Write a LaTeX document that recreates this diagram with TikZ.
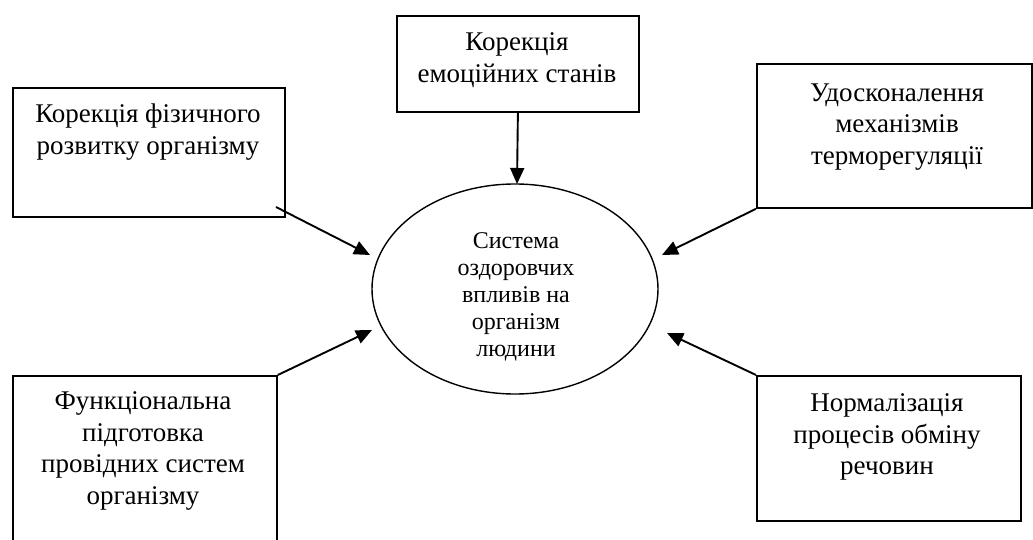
\documentclass[tikz,border=0pt]{standalone}
\usepackage{fontspec}
\setmainfont{Liberation Serif}
\usetikzlibrary{arrows.meta}
\begin{document}
\begin{tikzpicture}[x=1pt,y=-1pt,
  box/.style={draw,line width=1.8pt,rectangle,inner sep=0pt,anchor=north west},
  boxtext/.style={align=center,font=\fontsize{27}{31.5}\selectfont,inner sep=0pt},
  hubtext/.style={align=center,font=\fontsize{24}{27}\selectfont,inner sep=0pt},
  feed/.style={line width=1.9pt,-{Triangle[length=16pt,width=14pt]}}]
\useasboundingbox (0,0) rectangle (1033,540);
\fill[white] (0,0) rectangle (1033,540);

% central ellipse
\draw[line width=1.4pt] (515,289) ellipse [x radius=143, y radius=105];
\node[hubtext] (hub) at (516,297) {Система\\оздоровчих\\впливів на\\організм\\людини};

% surrounding boxes
\node[box,minimum width=272pt,minimum height=129pt] (b1) at (12,87) {};
\node[boxtext] (t1) at (148,132) {Корекція фізичного\\розвитку організму};

\node[box,minimum width=242pt,minimum height=96pt] (b5) at (396,15) {};
\node[boxtext] (t5) at (517,60) {Корекція\\емоційних станів};

\node[box,minimum width=275pt,minimum height=144pt] (b2) at (756,63) {};
\node[boxtext] (t2) at (897,127) {Удосконалення\\механізмів\\терморегуляції};

\node[box,minimum width=264pt,minimum height=180pt] (b3) at (12,375) {};
\node[boxtext] (t3) at (143,451) {Функціональна\\підготовка\\провідних систем\\організму};

\node[box,minimum width=264pt,minimum height=145pt] (b4) at (756,375) {};
\node[boxtext] (t4) at (887,437) {Нормалізація\\процесів обміну\\речовин};

% arrow ends
\coordinate (s1) at (276,207);
\coordinate (e1) at (370,255);
\coordinate (e2) at (662,255);
\coordinate (e3) at (372,330);
\coordinate (e4) at (667,333);
\coordinate (e5) at (517,184);

\draw[feed] (s1) -- (e1);
\draw[feed] (b2.south west) -- (e2);
\draw[feed] (b3.north east) -- (e3);
\draw[feed] (b4.north west) -- (e4);
\draw[feed] (b5.south) -- (e5);
\end{tikzpicture}
\end{document}
